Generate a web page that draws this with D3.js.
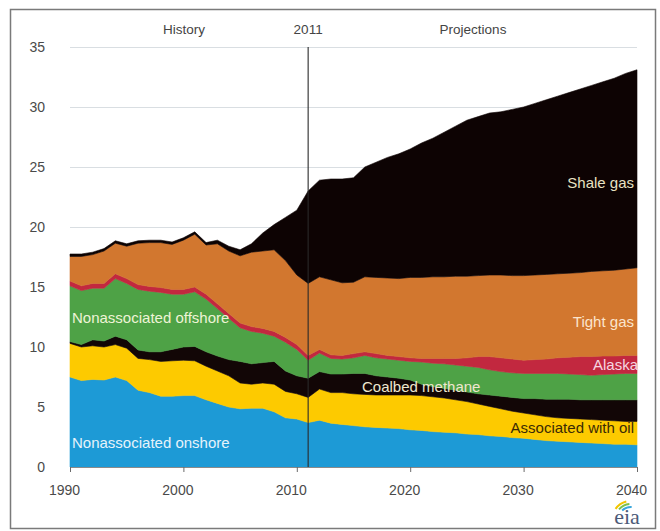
<!DOCTYPE html>
<html>
<head>
<meta charset="utf-8">
<script src="https://cdn.jsdelivr.net/npm/d3@7"></script>
<style>
  html, body { margin: 0; padding: 0; background: #fff; }
  svg { display: block; font-family: "Liberation Sans", Arial, sans-serif; }
</style>
</head>
<body>
<svg id="chart" width="660" height="531"></svg>
<script>
// U.S. natural gas production by source, 1990-2040 (trillion cubic feet)
const years = d3.range(1990, 2041);

const nonassocOnshore = [7.5,7.2,7.3,7.25,7.5,7.2,6.4,6.2,5.9,5.9,5.95,5.95,5.6,5.3,5.0,4.85,4.9,4.9,4.6,4.1,4.0,3.7,
  3.9,3.65,3.55,3.45,3.35,3.3,3.25,3.2,3.1,3.05,2.95,2.9,2.85,2.75,2.7,2.6,2.55,2.45,2.4,2.3,2.2,2.15,2.1,2.05,2.0,1.95,1.9,1.9,1.85];
const associatedOil = [2.8,2.8,2.8,2.75,2.7,2.7,2.65,2.75,2.9,2.95,2.95,2.9,2.8,2.7,2.6,2.15,2.0,2.1,2.3,2.2,2.1,2.1,
  2.6,2.55,2.65,2.65,2.7,2.7,2.75,2.8,2.9,2.9,2.9,2.85,2.75,2.7,2.55,2.45,2.3,2.2,2.1,2.05,2.0,1.95,1.95,1.95,1.95,1.95,1.95,1.9,1.95];
const coalbed = [0.15,0.2,0.5,0.5,0.7,0.7,0.7,0.65,0.8,0.95,1.1,1.2,1.2,1.25,1.35,1.8,1.7,1.7,1.9,1.7,1.5,1.6,
  1.45,1.55,1.55,1.7,1.75,1.6,1.5,1.4,1.25,0.95,0.85,0.8,0.8,0.8,0.85,0.95,1.05,1.15,1.2,1.35,1.45,1.55,1.6,1.6,1.65,1.7,1.75,1.8,1.8];
const nonassocOffshore = [4.65,4.5,4.3,4.4,4.8,4.7,5.05,5.05,4.95,4.6,4.4,4.55,4.4,3.95,3.45,2.8,2.7,2.45,2.1,2.4,2.2,1.5,
  1.55,1.3,1.25,1.3,1.5,1.5,1.5,1.5,1.55,1.85,1.95,2.05,2.1,2.15,2.2,2.1,2.05,2.05,2.1,2.1,2.15,2.15,2.1,2.1,2.05,2.1,2.15,2.2,2.2];
const alaska = [0.4,0.4,0.4,0.4,0.4,0.4,0.4,0.4,0.4,0.4,0.4,0.4,0.4,0.4,0.4,0.4,0.4,0.4,0.4,0.4,0.4,0.4,
  0.3,0.3,0.3,0.35,0.3,0.35,0.3,0.3,0.3,0.3,0.4,0.45,0.55,0.7,0.9,1.1,1.15,1.15,1.1,1.15,1.2,1.3,1.4,1.5,1.55,1.55,1.5,1.5,1.5];
const tightGas = [2.05,2.45,2.4,2.7,2.55,2.7,3.45,3.65,3.75,3.75,4.1,4.4,4.1,5.0,5.2,5.6,6.2,6.45,6.8,6.4,5.8,6.0,
  6.05,6.25,6.05,5.95,6.25,6.35,6.45,6.5,6.7,6.75,6.8,6.8,6.85,6.8,6.75,6.8,6.9,6.95,7.05,7.05,7.05,7.0,7.0,7.0,7.1,7.1,7.15,7.2,7.3];
const shaleGas = [0.2,0.2,0.2,0.2,0.2,0.2,0.2,0.2,0.2,0.2,0.2,0.2,0.2,0.3,0.4,0.5,0.7,1.5,2.1,3.6,5.4,7.7,
  8.05,8.4,8.65,8.7,9.15,9.6,10.05,10.4,10.7,11.2,11.55,12.05,12.5,13.0,13.25,13.5,13.6,13.85,14.05,14.3,14.55,14.8,15.05,15.3,15.5,15.75,16.0,16.3,16.5];

const seriesKeys = ["Nonassociated onshore", "Associated with oil", "Coalbed methane",
  "Nonassociated offshore", "Alaska", "Tight gas", "Shale gas"];
const seriesValues = [nonassocOnshore, associatedOil, coalbed, nonassocOffshore, alaska, tightGas, shaleGas];
const seriesColors = ["#1d9ad6", "#fdca00", "#120606", "#4ea246", "#c2283f", "#d2772f", "#0d0303"];

const yTicks = [0, 5, 10, 15, 20, 25, 30, 35];
const xTicks = [1990, 2000, 2010, 2020, 2030, 2040];
const splitYear = 2011;

// rows for d3.stack
const rows = years.map((yr, i) => {
  const r = { year: yr };
  seriesKeys.forEach((k, j) => { r[k] = seriesValues[j][i]; });
  return r;
});

const svg = d3.select("#chart");
const x = d3.scaleLinear().domain([1990, 2040]).range([70, 637]);
const y = d3.scaleLinear().domain([0, 35]).range([467, 47]);

// outer frame
svg.append("rect")
  .attr("x", 10.5).attr("y", 9.5).attr("width", 645).attr("height", 519)
  .attr("fill", "none").attr("stroke", "#7a7a7a").attr("stroke-width", 1.5);

// y axis with gridlines
const yAxis = svg.append("g")
  .attr("transform", `translate(${x(1990)},0)`)
  .call(d3.axisLeft(y).tickValues(yTicks).tickSize(-(x(2040) - x(1990))).tickPadding(25));
yAxis.select(".domain").remove();
yAxis.selectAll(".tick line").attr("stroke", "#d9dee2").attr("stroke-width", 1.2);
yAxis.selectAll(".tick text").attr("fill", "#4a4a4a").style("font-size", "14px");

// stacked areas
const stack = d3.stack().keys(seriesKeys);
const layers = stack(rows);
const area = d3.area()
  .x(d => x(d.data.year))
  .y0(d => y(d[0]))
  .y1(d => y(d[1]));

svg.append("g").selectAll("path")
  .data(layers)
  .join("path")
  .attr("d", area)
  .attr("fill", (d, i) => seriesColors[i])
  .attr("stroke", (d, i) => seriesColors[i])
  .attr("stroke-width", 0.6);

// x axis
const xAxis = svg.append("g")
  .attr("transform", `translate(0,${y(0)})`)
  .call(d3.axisBottom(x).tickValues(xTicks).tickFormat(d3.format("d")).tickSize(5).tickPadding(13));
xAxis.select(".domain").attr("stroke", "#8a8a8a");
xAxis.selectAll(".tick line").attr("stroke", "#6a6a6a");
xAxis.selectAll(".tick text").attr("fill", "#4a4a4a").attr("dx", -6).style("font-size", "14px");

// history / projections divider
svg.append("line")
  .attr("x1", x(splitYear)).attr("x2", x(splitYear))
  .attr("y1", y(35)).attr("y2", y(0))
  .attr("stroke", "#2a2a2a").attr("stroke-width", 1.1);

const header = [
  { text: "History", x: 184 },
  { text: String(splitYear), x: x(splitYear) },
  { text: "Projections", x: 473 }
];
svg.append("g").selectAll("text")
  .data(header)
  .join("text")
  .attr("x", d => d.x).attr("y", 34)
  .attr("text-anchor", "middle")
  .attr("fill", "#444")
  .style("font-size", "13.5px")
  .text(d => d.text);

// series labels
const labels = [
  { text: "Nonassociated offshore", x: 72, y: 323, anchor: "start", color: "#eef4d6" },
  { text: "Nonassociated onshore", x: 72, y: 448, anchor: "start", color: "#e6f3fb" },
  { text: "Coalbed methane", x: 362, y: 392, anchor: "start", color: "#efe6cf" },
  { text: "Associated with oil", x: 634, y: 433, anchor: "end", color: "#3a2a05" },
  { text: "Alaska", x: 638, y: 370, anchor: "end", color: "#f6d6e1" },
  { text: "Tight gas", x: 634, y: 327, anchor: "end", color: "#fbe5cd" },
  { text: "Shale gas", x: 634, y: 188, anchor: "end", color: "#e8e1c2" }
];
svg.append("g").selectAll("text")
  .data(labels)
  .join("text")
  .attr("x", d => d.x).attr("y", d => d.y)
  .attr("text-anchor", d => d.anchor)
  .attr("fill", d => d.color)
  .style("font-size", "15px")
  .text(d => d.text);

// eia logo mark
const logo = svg.append("g").attr("transform", "translate(627,0)");
const swoosh = [
  { color: "#f2c500", r: 20, a0: -0.95, a1: -0.25 },
  { color: "#7cc04a", r: 17, a0: -0.85, a1: -0.1 },
  { color: "#3aa6dc", r: 14, a0: -0.75, a1: 0.05 }
];
swoosh.forEach(s => {
  logo.append("path")
    .attr("transform", "translate(4,520)")
    .attr("d", d3.arc().innerRadius(s.r - 2).outerRadius(s.r).startAngle(s.a0).endAngle(s.a1)())
    .attr("fill", s.color);
});
logo.append("text")
  .attr("x", 0).attr("y", 524)
  .attr("text-anchor", "middle")
  .attr("fill", "#4c5a78")
  .style("font-family", "'Liberation Serif', 'DejaVu Serif', serif")
  .style("font-size", "22px")
  .text("eia");
</script>
</body>
</html>
